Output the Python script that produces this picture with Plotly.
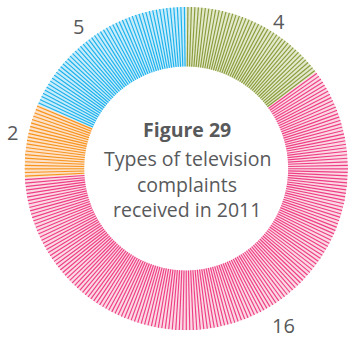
import numpy as np
import plotly.graph_objects as go

# Television complaints received in 2011, by type (clockwise from 12 o'clock)
categories = ["Type A", "Type B", "Type C", "Type D"]
values = [4, 16, 2, 5]
line_colors = ["#8a9b3a", "#ee3f85", "#f7941e", "#1cb2ec"]
fill_colors = ["#e3e9cd", "#fbd9e4", "#fde1c8", "#c9ecfa"]

HOLE = 0.63
HATCH_STEP = 1.25  # degrees between hatch strokes

total = sum(values)
spans = [v / total * 360 for v in values]
starts = np.concatenate([[0], np.cumsum(spans)[:-1]])
mids = starts + np.array(spans) / 2

fig = go.Figure()

# Ring segments as polar bars
fig.add_trace(go.Barpolar(
    theta=mids, width=spans, base=[HOLE] * len(values), r=[1 - HOLE] * len(values),
    marker=dict(color=fill_colors, line=dict(width=0)),
    hoverinfo="skip", showlegend=False,
))

# Radial hatch strokes inside each segment
for s, w, col in zip(starts, spans, line_colors):
    n = int(round(w / HATCH_STEP))
    angs = s + (np.arange(n) + 0.5) * (w / n)
    th, rr = [], []
    for a in angs:
        th += [a, a, None]
        rr += [HOLE, 1.0, None]
    fig.add_trace(go.Scatterpolar(
        theta=th, r=rr, mode="lines", line=dict(color=col, width=1.15),
        hoverinfo="skip", showlegend=False, connectgaps=False,
    ))

fig.update_layout(
    width=348, height=340,
    margin=dict(l=0, r=0, t=0, b=0),
    paper_bgcolor="white",
    plot_bgcolor="white",
    polar=dict(
        domain=dict(x=[0.07, 1.0], y=[0.028, 0.981]),
        bgcolor="rgba(0,0,0,0)",
        bargap=0,
        radialaxis=dict(range=[0, 1], visible=False),
        angularaxis=dict(direction="clockwise", rotation=90, visible=False),
    ),
    font=dict(family="Open Sans, sans-serif", color="#58595b"),
)

# Value labels around the ring
label_pos = [(279, 22), (283, 325), (12, 133), (78, 27)]
for v, (px, py) in zip(values, label_pos):
    fig.add_annotation(
        x=px / 348, y=1 - py / 340, xref="paper", yref="paper",
        text=str(v), showarrow=False, font=dict(size=20, color="#58595b"),
        xanchor="center", yanchor="middle",
    )

# Centre title
title_lines = [("<b>Figure 29</b>", 129), ("Types of television", 158),
               ("complaints", 184), ("received in 2011", 209)]
for txt, py in title_lines:
    fig.add_annotation(
        x=187 / 348, y=1 - py / 340, xref="paper", yref="paper",
        text=txt, showarrow=False, font=dict(size=19.5, color="#58595b"),
        xanchor="center", yanchor="middle",
    )

fig.write_html("out.html")
